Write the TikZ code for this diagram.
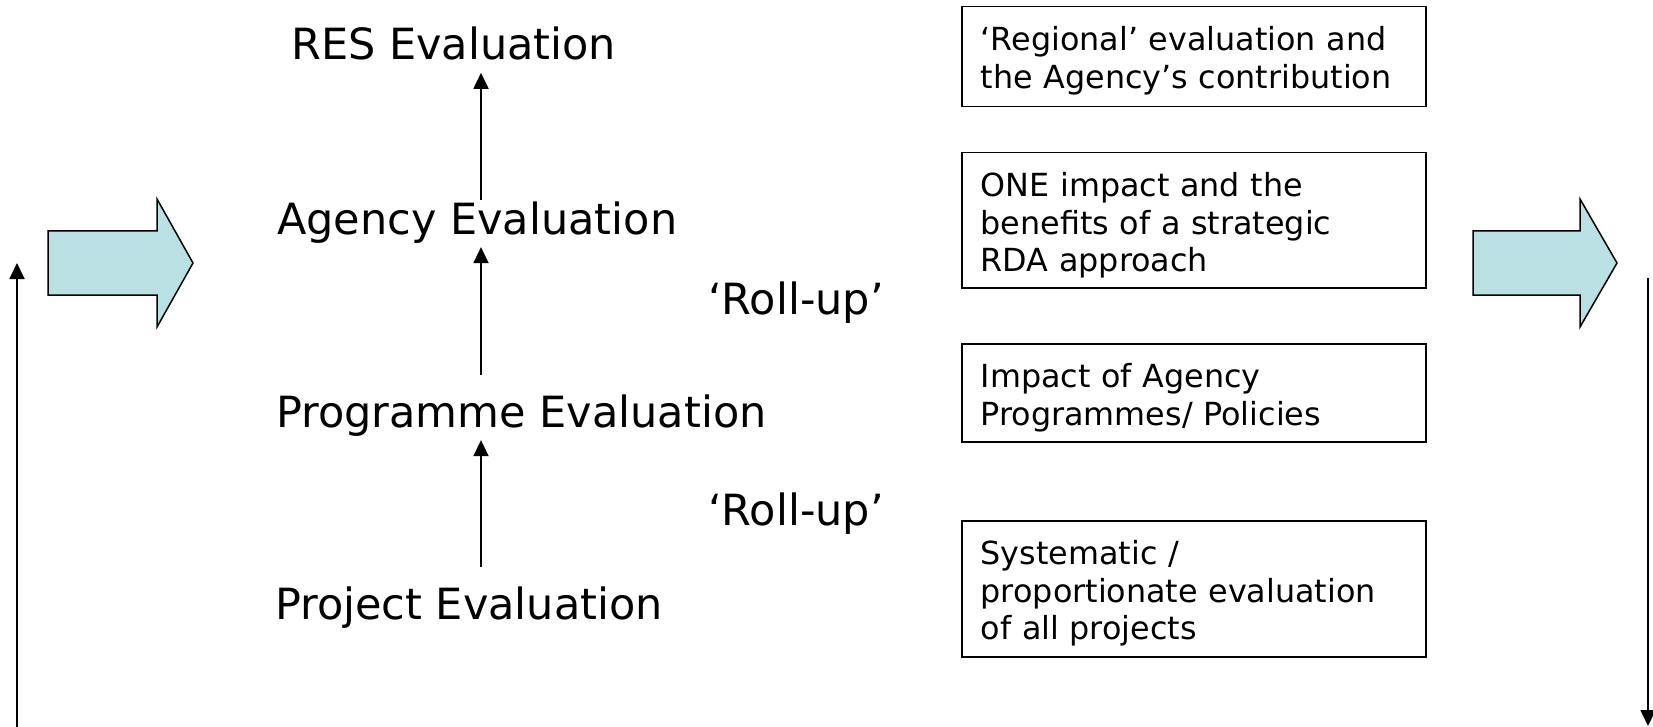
\documentclass[tikz,border=0pt]{standalone}
\usepackage{fontspec}
\setmainfont{DejaVu Sans}
\usetikzlibrary{arrows.meta}
\definecolor{blockfill}{RGB}{187,224,227}
\begin{document}
\begin{tikzpicture}[x=1pt,y=-1pt,
  level/.style={anchor=base west, inner sep=0pt, font=\fontsize{43}{50}\selectfont},
  infobox/.style={draw, line width=1.5pt, anchor=north west, inner xsep=19pt,
    inner ysep=0pt, text width=426pt, align=left, text height=44pt,
    font=\fontsize{31.8}{37.5}\selectfont},
  uparrow/.style={-{Triangle[length=16pt,width=15pt]}, line width=1.8pt},
  blockarrow/.style={draw, line width=1.5pt, fill=blockfill, line join=miter}
]
\useasboundingbox (0,0) rectangle (1653,727);

% evaluation levels
\node[level] (res) at (291,60) {RES Evaluation};
\node[level] (agency) at (277,235) {Agency Evaluation};
\node[level] (programme) at (276,427) {Programme Evaluation};
\node[level] (project) at (275,619) {Project Evaluation};
\node[level] (rollupA) at (708,314) {‘Roll-up’};
\node[level] (rollupB) at (708,525) {‘Roll-up’};

% arrows between the levels
\coordinate (axis) at (481,0);
\draw[uparrow] ([yshift=2pt]agency.north -| axis) -- ([yshift=-12pt]res.south -| axis);
\draw[uparrow] ([yshift=19pt]programme.north -| axis) -- ([yshift=-3pt]agency.south -| axis);
\draw[uparrow] ([yshift=19pt]project.north -| axis) -- ([yshift=-4pt]programme.south -| axis);

% description boxes
\node[infobox, text depth=56pt] (boxregion) at (961,6)
  {‘Regional’ evaluation and\\the Agency’s contribution};
\node[infobox, text depth=91pt] (boxone) at (961,152)
  {ONE impact and the\\benefits of a strategic\\RDA approach};
\node[infobox, text depth=54pt] (boxprog) at (961,343)
  {Impact of Agency\\Programmes/ Policies};
\node[infobox, text depth=92pt] (boxproj) at (961,520)
  {Systematic /\\proportionate evaluation\\of all projects};

% block arrows
\draw[blockarrow] (48,231) -- (157,231) -- (157,199) -- (193,263) -- (157,327)
  -- (157,295) -- (48,295) -- cycle;
\draw[blockarrow] (1473,231) -- (1580,231) -- (1580,199) -- (1617,263) -- (1580,327)
  -- (1580,295) -- (1473,295) -- cycle;

% long side arrows
\coordinate (leftfoot) at (17,727);
\coordinate (lefttop) at (17,263);
\coordinate (righttop) at (1648,278);
\coordinate (rightfoot) at (1648,726);
\draw[uparrow] (leftfoot) -- (lefttop);
\draw[uparrow] (righttop) -- (rightfoot);
\end{tikzpicture}
\end{document}
